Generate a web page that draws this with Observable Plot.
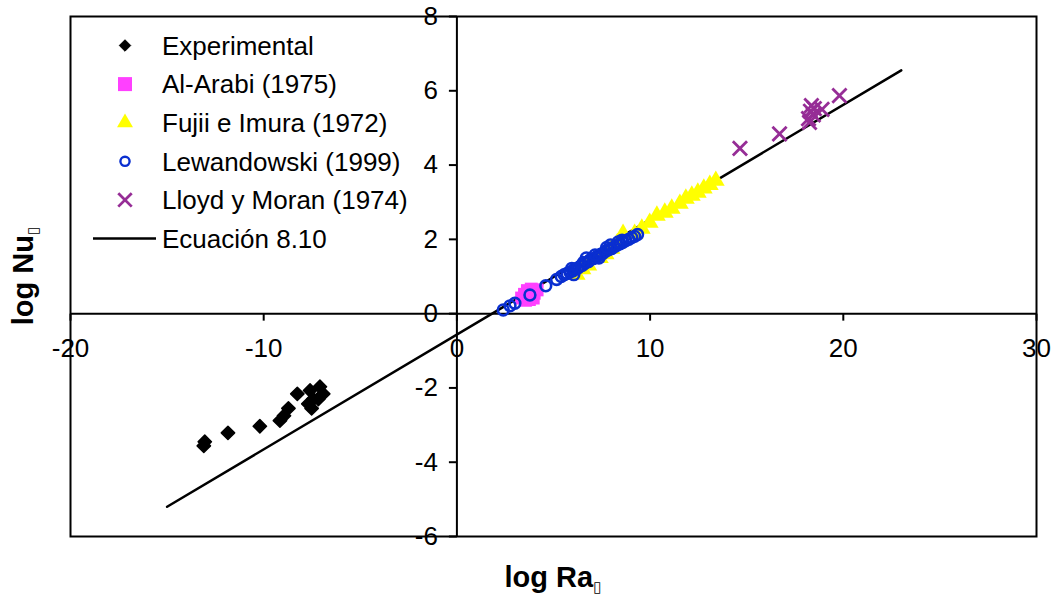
<!DOCTYPE html>
<html>
<head>
<meta charset="utf-8">
<script src="https://cdn.jsdelivr.net/npm/d3@7"></script>
<script src="https://cdn.jsdelivr.net/npm/@observablehq/plot@0.6"></script>
<style>
  html, body { margin: 0; padding: 0; background: white; }
  svg { display: block; }
</style>
</head>
<body>
<div id="chart"></div>
<script>
// ---- Data ----
const xTicks = [-20, -10, 0, 10, 20, 30];
const yTicks = [-6, -4, -2, 0, 2, 4, 6, 8];

const seriesNames = ["Experimental", "Al-Arabi (1975)", "Fujii e Imura (1972)", "Lewandowski (1999)", "Lloyd y Moran (1974)", "Ecuación 8.10"];

const expX = [-13.05, -13.1, -11.85, -10.2, -9.16, -8.95, -8.72, -8.26, -7.6, -7.09, -6.92, -7.43, -7.69, -7.52, -7.17];
const expY = [-3.45, -3.56, -3.21, -3.03, -2.88, -2.75, -2.55, -2.16, -2.07, -1.97, -2.16, -2.3, -2.43, -2.55, -2.3];

const alX = [3.35, 3.5, 3.65, 3.85, 4.0, 4.15, 3.55, 3.95, 3.75];
const alY = [0.42, 0.52, 0.62, 0.66, 0.55, 0.64, 0.36, 0.42, 0.38];

const fuX = [6.2, 6.8, 7.4, 8.0, 8.6, 9.2, 6.5, 7.7, 8.3, 9.57, 9.98, 10.35, 10.76, 11.12, 11.54, 11.85, 12.16, 12.47, 12.78, 13.09, 13.4];
const fuY = [1.05, 1.3, 1.5, 1.75, 2.15, 2.15, 1.2, 1.6, 1.9, 2.29, 2.45, 2.64, 2.72, 2.83, 2.96, 3.1, 3.18, 3.26, 3.37, 3.47, 3.58];

const leX = [2.4, 2.75, 3.0, 3.78, 4.6, 5.16, 5.4, 5.55, 5.7, 5.85, 6.0, 6.1, 6.25, 6.4, 6.5, 6.65, 6.8, 6.9, 7.05, 7.2, 7.3, 7.45, 7.55, 7.7, 7.85, 8.0, 8.15, 8.3, 8.45, 8.6, 8.75, 8.9, 9.05, 9.2, 9.35, 6.05, 6.7, 7.35, 7.95, 8.55, 5.95, 6.55, 7.15, 7.75, 8.35];
const leY = [0.1, 0.21, 0.28, 0.5, 0.75, 0.92, 1.0, 1.05, 1.08, 1.12, 1.15, 1.2, 1.22, 1.28, 1.3, 1.36, 1.4, 1.45, 1.48, 1.52, 1.55, 1.6, 1.62, 1.68, 1.72, 1.75, 1.8, 1.85, 1.88, 1.92, 1.97, 2.0, 2.05, 2.08, 2.13, 1.05, 1.5, 1.5, 1.85, 1.98, 1.22, 1.38, 1.58, 1.78, 1.93];

const llX = [14.65, 16.7, 18.2, 18.3, 18.35, 18.45, 18.5, 18.25, 18.9, 19.8];
const llY = [4.45, 4.84, 5.25, 5.45, 5.6, 5.35, 5.52, 5.15, 5.5, 5.87];

const eqX = [-15, 23];
const eqY = [-5.2, 6.55];

// ---- Styles ----
const colors = ["#000000", "#ff40ff", "#ffff00", "#0a2fd0", "#962d96", "#000000"];
const FONT = "'Liberation Sans', Arial, sans-serif";

const tickDown = { draw(c) { c.moveTo(0, 0); c.lineTo(0, 7); } };
const tickLeft = { draw(c) { c.moveTo(0, 0); c.lineTo(-8, 0); } };

const chart = Plot.plot({
  width: 1055,
  height: 598,
  marginLeft: 70,
  marginRight: 19,
  marginTop: 16,
  marginBottom: 62,
  x: { domain: [-20, 30], axis: null },
  y: { domain: [-6, 8], axis: null },
  style: { fontFamily: FONT, fontSize: "26px", background: "white", overflow: "visible", color: "black" },
  marks: [
    Plot.frame({ stroke: "black", strokeWidth: 2 }),
    Plot.ruleY([0], { stroke: "black", strokeWidth: 2 }),
    Plot.ruleX([0], { stroke: "black", strokeWidth: 2 }),
    Plot.dot(xTicks, { x: d => d, y: 0, symbol: tickDown, r: 3, fill: "none", stroke: "black", strokeWidth: 2 }),
    Plot.dot(yTicks, { x: 0, y: d => d, symbol: tickLeft, r: 3, fill: "none", stroke: "black", strokeWidth: 2 }),
    Plot.text(xTicks, { x: d => d, y: 0, text: d => String(d), dy: 25, lineAnchor: "top", fontSize: 26, fill: "black" }),
    Plot.text(yTicks, { x: 0, y: d => d, text: d => String(d), dx: -19, textAnchor: "end", lineAnchor: "middle", fontSize: 26, fill: "black" }),
    Plot.line(eqX, { x: eqX, y: eqY, stroke: colors[5], strokeWidth: 2.5 }),
    Plot.dot(expX, { x: expX, y: expY, symbol: "diamond2", r: 6, fill: colors[0], stroke: colors[0], strokeWidth: 1.5, strokeLinejoin: "round" }),
    Plot.dot(alX, { x: alX, y: alY, symbol: "square", r: 7.3, fill: colors[1] }),
    Plot.dot(fuX, { x: fuX, y: fuY, symbol: "triangle", r: 6.6, fill: colors[2] }),
    Plot.dot(leX, { x: leX, y: leY, symbol: "circle", r: 5.4, fill: "none", stroke: colors[3], strokeWidth: 2.6 }),
    Plot.dot(llX, { x: llX, y: llY, symbol: "times", r: 6.5, fill: "none", stroke: colors[4], strokeWidth: 2.8 })
  ]
});

document.getElementById("chart").appendChild(chart);

// ---- Axis titles and legend ----
const svg = d3.select(chart);

const xt = svg.append("text")
  .attr("x", 553).attr("y", 587)
  .attr("text-anchor", "middle")
  .attr("font-family", FONT).attr("font-size", 29).attr("font-weight", "bold").attr("fill", "black");
xt.append("tspan").text("log Ra");
xt.append("tspan").attr("font-size", 15).attr("font-weight", "normal").attr("font-family", "'DejaVu Sans'").attr("dy", 5).text("\u25AF");

const yt = svg.append("text")
  .attr("transform", "translate(33,276) rotate(-90)")
  .attr("text-anchor", "middle")
  .attr("font-family", FONT).attr("font-size", 29).attr("font-weight", "bold").attr("fill", "black");
yt.append("tspan").text("log Nu");
yt.append("tspan").attr("font-size", 15).attr("font-weight", "normal").attr("font-family", "'DejaVu Sans'").attr("dy", 5).text("\u25AF");

const legendSymbols = [
  { type: d3.symbolDiamond2, size: 84, fill: colors[0], stroke: colors[0], sw: 1 },
  { type: d3.symbolSquare, size: 196, fill: colors[1], stroke: "none", sw: 0 },
  { type: d3.symbolTriangle, size: 110, fill: colors[2], stroke: "none", sw: 0 },
  { type: "circle", r: 4.6, fill: "none", stroke: colors[3], sw: 2.4 },
  { type: d3.symbolTimes, size: 120, fill: "none", stroke: colors[4], sw: 2.8 },
  { type: "line" }
];

const lg = svg.append("g").attr("text-anchor", "start");
seriesNames.forEach((name, i) => {
  const cy = 45.5 + i * 38.6;
  const s = legendSymbols[i];
  if (s.type === "line") {
    lg.append("line").attr("x1", 93).attr("x2", 156).attr("y1", cy).attr("y2", cy)
      .attr("stroke", colors[i]).attr("stroke-width", 2.5);
  } else if (s.type === "circle") {
    lg.append("circle").attr("cx", 125).attr("cy", cy).attr("r", s.r)
      .attr("fill", s.fill).attr("stroke", s.stroke).attr("stroke-width", s.sw);
  } else {
    lg.append("path").attr("transform", `translate(125,${cy})`)
      .attr("d", d3.symbol(s.type, s.size)())
      .attr("fill", s.fill).attr("stroke", s.stroke).attr("stroke-width", s.sw)
      .attr("stroke-linejoin", "round");
  }
  lg.append("text").attr("x", 162).attr("y", cy).attr("dy", "0.36em")
    .attr("text-anchor", "start")
    .attr("font-family", FONT).attr("font-size", 26).attr("fill", "black").text(name);
});
</script>
</body>
</html>
